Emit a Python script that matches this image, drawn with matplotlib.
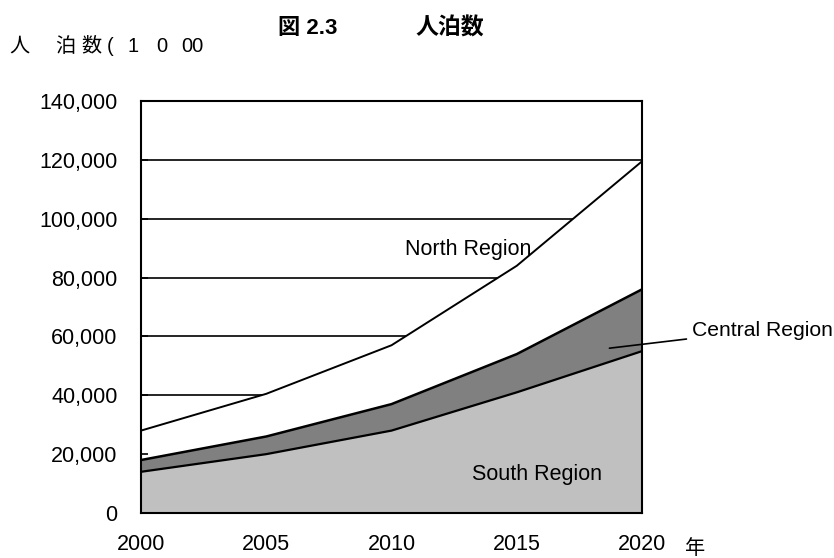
import matplotlib
matplotlib.use("Agg")
import matplotlib.pyplot as plt
from matplotlib.ticker import FuncFormatter

plt.rcParams['font.family'] = ['Liberation Sans', 'Noto Sans CJK JP', 'DejaVu Sans']

years = [2000, 2005, 2010, 2015, 2020]
south = [14000, 20000, 28000, 41000, 55000]
central_cum = [18000, 26000, 37000, 54000, 76000]
north_cum = [28000, 40500, 57000, 84000, 119500]

y_ticks = [0, 20000, 40000, 60000, 80000, 100000, 120000, 140000]
x_ticks = [2000, 2005, 2010, 2015, 2020]

W, H = 834, 558
fig = plt.figure(figsize=(W / 100, H / 100), dpi=100)
ax = fig.add_axes([141 / W, 1 - 513 / H, (642 - 141) / W, (513 - 101) / H])

# horizontal gridlines sit beneath the stacked areas
for v in y_ticks[1:]:
    ax.axhline(v, color='black', lw=1.2, zorder=0)

ax.fill_between(years, 0, north_cum, color='white', zorder=1)
ax.fill_between(years, 0, central_cum, color='#808080', zorder=2)
ax.fill_between(years, 0, south, color='#c0c0c0', zorder=3)
ax.plot(years, north_cum, color='black', lw=1.4, zorder=4)
ax.plot(years, central_cum, color='black', lw=1.8, zorder=4)
ax.plot(years, south, color='black', lw=1.6, zorder=4)

ax.set_xlim(2000, 2020)
ax.set_ylim(0, 140000)
ax.set_xticks(x_ticks)
ax.set_yticks(y_ticks)
ax.yaxis.set_major_formatter(FuncFormatter(lambda v, p: f"{int(v):,}"))
ax.tick_params(axis='x', direction='in', length=7, width=1.2, pad=15, labelsize=15.5)
ax.tick_params(axis='y', direction='in', length=5, width=1.2, pad=17, labelsize=15.5)
for s in ax.spines.values():
    s.set_linewidth(1.5)
    s.set_zorder(5)

ax.text(2013.05, 89400, 'North Region', fontsize=15.5, ha='center', va='center', zorder=6)
ax.text(2015.8, 13250, 'South Region', fontsize=15.5, ha='center', va='center', zorder=6)
ax.annotate('Central Region', xy=(2018.7, 56000), xytext=(692, 558 - 330),
            textcoords='figure pixels', fontsize=15.2, ha='left', va='center',
            arrowprops=dict(arrowstyle='-', color='black', lw=1.2,
                            shrinkA=2, shrinkB=0), annotation_clip=False, zorder=6)

fig.text(278 / W, 1 - 28 / H, '図 2.3', fontsize=16, fontweight='bold',
         ha='left', va='center')
fig.text(415 / W, 1 - 28 / H, '人泊数', fontsize=16.5, fontweight='bold',
         ha='left', va='center')

# axis caption, spaced out character by character
for ch, px in [('人', 19), ('泊', 65), ('数', 91), ('(', 110),
               ('1', 133), ('0', 162), ('00', 192)]:
    fig.text(px / W, 1 - 46 / H, ch, fontsize=14.5, ha='center', va='center')
fig.text(695 / W, 1 - 549 / H, '年', fontsize=14.5, ha='center', va='center')

fig.savefig('out.png', dpi=100)
